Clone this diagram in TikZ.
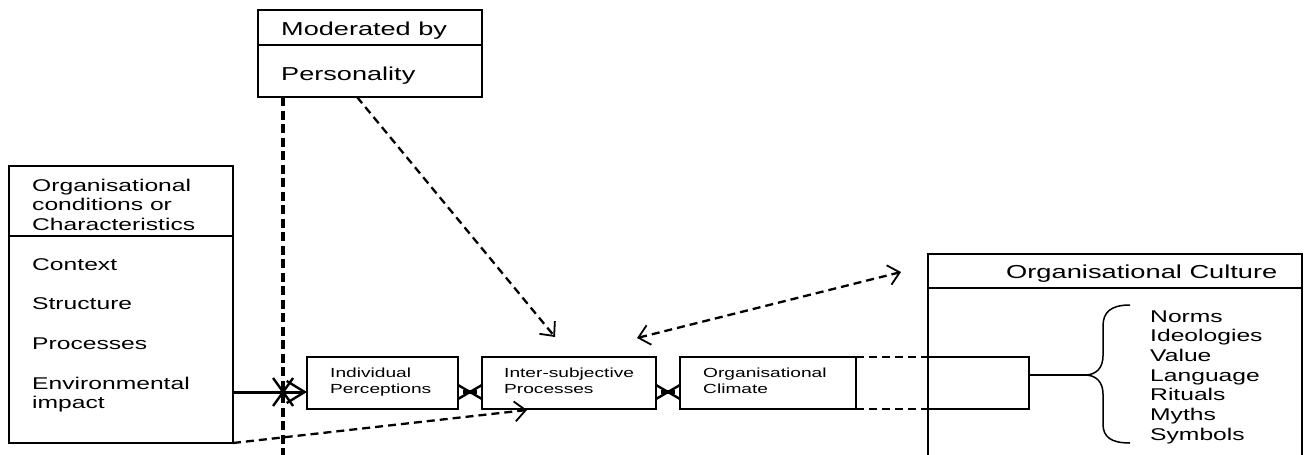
\documentclass[tikz,border=0pt]{standalone}
\usepackage{fontspec}
\newfontfamily\af[FakeStretch=1.45]{Liberation Sans}
\usetikzlibrary{arrows.meta,calc}
\begin{document}
\begin{tikzpicture}[x=1pt,y=-1pt,
  box/.style={draw, line width=2.2pt, inner sep=0pt, outer sep=0pt, anchor=north west},
  txt/.style={anchor=base west, inner sep=0pt, font=\af\fontsize{#1}{#1}\selectfont},
  divline/.style={line width=2.2pt},
  dashline/.style={line width=2.3pt, dash pattern=on 8pt off 5pt},
  heavydash/.style={line width=3.6pt, dash pattern=on 9pt off 4.5pt},
  barb/.style={-{Straight Barb[length=11pt,width=20pt,line width=1.8pt]}},
  dbarb/.style={{Straight Barb[length=11pt,width=20pt,line width=1.8pt]}-{Straight Barb[length=11pt,width=20pt,line width=1.8pt]}},
  xmark/.style={line width=2.4pt},
  bracel/.style={line width=1.5pt}
]
\useasboundingbox (0,0) rectangle (1309,455);

% ---- Moderated box
\node[box, minimum width=224pt, minimum height=87pt] (mb) at (258,10) {};
\draw[divline] (mb.west |- 0,45) -- (mb.east |- 0,45);
\node[txt=18.7] (mt1) at (281,35) {Moderated by};
\node[txt=18.7] (mt2) at (281,80) {Personality};

% ---- Organisational conditions box
\node[box, minimum width=224pt, minimum height=277pt] (ob) at (9,166) {};
\draw[divline] (ob.west |- 0,236) -- (ob.east |- 0,236);
\node[txt=17] (o1) at (32,191) {Organisational};
\node[txt=17] (o2) at (32,210) {conditions or};
\node[txt=17] (o3) at (32,230) {Characteristics};
\node[txt=17] (o4) at (32,270) {Context};
\node[txt=17] (o5) at (32,309) {Structure};
\node[txt=17] (o6) at (32,349) {Processes};
\node[txt=17] (o7) at (32,389) {Environmental};
\node[txt=17] (o8) at (32,408) {impact};

% ---- Organisational Culture box
\node[box, minimum width=374pt, minimum height=230pt] (cb) at (928,254) {};
\draw[divline] (cb.west |- 0,288) -- (cb.east |- 0,288);
\node[txt=18.8] (ct) at (1006,278) {Organisational Culture};
\node[txt=17] (l1) at (1150,322) {Norms};
\node[txt=17] (l2) at (1150,341.7) {Ideologies};
\node[txt=17] (l3) at (1150,361.3) {Value};
\node[txt=17] (l4) at (1150,381) {Language};
\node[txt=17] (l5) at (1150,400.7) {Rituals};
\node[txt=17] (l6) at (1150,420.3) {Myths};
\node[txt=17] (l7) at (1150,440) {Symbols};

% ---- process boxes
\node[box, minimum width=151pt, minimum height=52pt] (ip) at (307,357) {};
\node[box, minimum width=174pt, minimum height=52pt] (isp) at (482,357) {};
\node[box, minimum width=176pt, minimum height=52pt] (cl) at (680,357) {};
\node[txt=13.2] (ipt1) at (330,377) {Individual};
\node[txt=13.2] (ipt2) at (330,393) {Perceptions};
\node[txt=13.2] (ist1) at (504,377) {Inter-subjective};
\node[txt=13.2] (ist2) at (504,393) {Processes};
\node[txt=13.2] (clt1) at (703,377) {Organisational};
\node[txt=13.2] (clt2) at (703,393) {Climate};

% ---- extension of climate into culture box
\coordinate (eT) at (928,357);
\coordinate (eB) at (928,409);
\coordinate (eTR) at (1029,357);
\coordinate (eBR) at (1029,409);
\draw[dashline, line width=2.2pt] (cl.north east) -- (eT);
\draw[dashline, line width=2.2pt] (cl.south east) -- (eB);
\draw[divline, line join=miter] (eT) -- (eTR) -- (eBR) -- (eB);

% ---- brace
\coordinate (bt) at (1085,375);
\draw[line width=2.2pt] (1029,375) -- (bt);
\draw[bracel] (1130,305) .. controls (1111,305) and (1103,312) .. (1103,326)
  -- (1103,356) .. controls (1103,368) and (1096,375) .. (bt)
  .. controls (1096,375) and (1103,382) .. (1103,394)
  -- (1103,424) .. controls (1103,437) and (1111,443) .. (1130,443);

% ---- heavy vertical dashed line
\coordinate (vtop) at ($(mb.south west)!0.112!(mb.south east)$);
\coordinate (vbot) at (vtop |- 0,462);
\draw[heavydash] (vtop) -- (vbot);

% ---- solid arrow from conditions to perceptions
\coordinate (sa) at (ob.east |- 0,392);
\coordinate (sb) at (ip.west |- 0,392);
\draw[line width=3pt, -{Straight Barb[length=18pt,width=22pt,line width=2.4pt]}] (sa) -- (sb);
\coordinate (xc) at (vtop |- 0,392);
\draw[xmark] ($(xc)+(-10,-14)$) -- ($(xc)+(10,14)$);
\draw[xmark] ($(xc)+(-10,14)$) -- ($(xc)+(10,-14)$);

% ---- crossed connectors between process boxes
\foreach \a/\b in {ip/isp, isp/cl}{
  \draw[xmark] (\a.east |- 0,385) -- (\b.west |- 0,399);
  \draw[xmark] (\a.east |- 0,399) -- (\b.west |- 0,385);
  \draw[line width=3.4pt] ($(\a.east |- 0,392)+(5,0)$) -- ($(\b.west |- 0,392)+(-5,0)$);
}

% ---- dashed arrows
\coordinate (m1) at ($(mb.south west)!0.442!(mb.south east)$);
\coordinate (a1) at (555,337);
\draw[dashline, barb] (m1) -- (a1);
\coordinate (d1) at (637,338);
\coordinate (d2) at (901,272);
\draw[dashline, dbarb] (d1) -- (d2);
\coordinate (b1) at (527,410);
\draw[dashline, barb] (ob.south east) -- (b1);
\end{tikzpicture}
\end{document}
